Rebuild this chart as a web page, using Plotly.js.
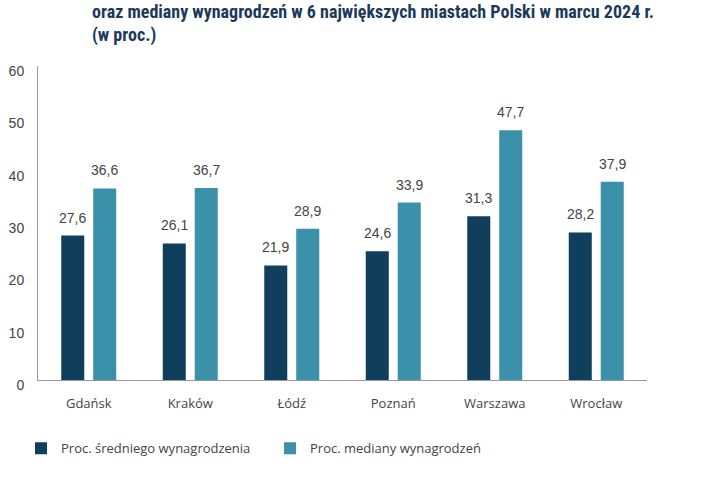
<!DOCTYPE html>
<html>
<head>
<meta charset="utf-8">
<script src="https://cdn.plot.ly/plotly-3.0.1.min.js"></script>
<style>html,body{margin:0;padding:0;background:#fff;}#chart{width:720px;height:500px;}</style>
</head>
<body>
<div id="chart"></div>
<script>
const cities = ["Gdańsk", "Kraków", "Łódź", "Poznań", "Warszawa", "Wrocław"];
const avgSalary = [27.6, 26.1, 21.9, 24.6, 31.3, 28.2];
const medianSalary = [36.6, 36.7, 28.9, 33.9, 47.7, 37.9];
const seriesNames = ["Proc. średniego wynagrodzenia", "Proc. mediany wynagrodzeń"];
const yTicks = [0, 10, 20, 30, 40, 50, 60];
const titleText = "oraz mediany wynagrodzeń w 6 największych miastach Polski w marcu 2024 r.<br>(w proc.)";

const darkColor = "#0f3f5c";
const lightColor = "#3b91aa";
const fmt = v => v.toFixed(1).replace(".", ",");

const traces = [
  {type: "bar", x: cities, y: avgSalary, name: seriesNames[0], marker: {color: darkColor}, hoverinfo: "none"},
  {type: "bar", x: cities, y: medianSalary, name: seriesNames[1], marker: {color: lightColor}, hoverinfo: "none"}
];

const annotations = [];
[avgSalary, medianSalary].forEach((arr, si) => {
  arr.forEach((v, i) => {
    annotations.push({
      x: cities[i], y: v, xref: "x", yref: "y",
      text: fmt(v), showarrow: false,
      xanchor: "center", yanchor: "bottom",
      xshift: si === 0 ? -16 : 16, yshift: 8,
      font: {family: "Liberation Sans, Arial, sans-serif", size: 14, color: "#444"}
    });
  });
});

const layout = {
  width: 720, height: 500,
  margin: {l: 38, r: 73, t: 66, b: 120},
  paper_bgcolor: "#fff", plot_bgcolor: "#fff",
  title: {
    text: titleText,
    font: {family: "Liberation Sans Narrow, Roboto Condensed, Arial Narrow, sans-serif", size: 18, color: "#1b3a5a", weight: "bold"},
    x: 92 / 720, xanchor: "left", xref: "container",
    y: 1 - 17.5 / 500, yanchor: "middle", yref: "container", pad: {t: 0, b: 0, l: 0, r: 0}
  },
  barmode: "group",
  bargap: 0.37,
  bargroupgap: 0.28,
  showlegend: true,
  legend: {
    orientation: "h", x: -17 / 609, xanchor: "left", y: -0.17, yanchor: "top",
    font: {family: "Open Sans, sans-serif", size: 13, color: "#444"},
    itemwidth: 30, entrywidth: 204, traceorder: "normal"
  },
  xaxis: {
    showline: true, linecolor: "#999", linewidth: 1,
    showgrid: false, zeroline: false, ticks: "",
    ticklabelstandoff: 11,
    tickfont: {family: "Open Sans, sans-serif", size: 13, color: "#444"}
  },
  yaxis: {
    range: [0, 60], tickvals: yTicks, ticktext: yTicks.map(String),
    showline: true, linecolor: "#999", linewidth: 1,
    showgrid: false, zeroline: false, ticks: "",
    ticklabelstandoff: 10, ticklabelshift: 5,
    tickfont: {family: "Liberation Sans, Arial, sans-serif", size: 14, color: "#444"}
  },
  annotations: annotations
};

Plotly.newPlot("chart", traces, layout, {displayModeBar: false, staticPlot: true});
</script>
</body>
</html>
